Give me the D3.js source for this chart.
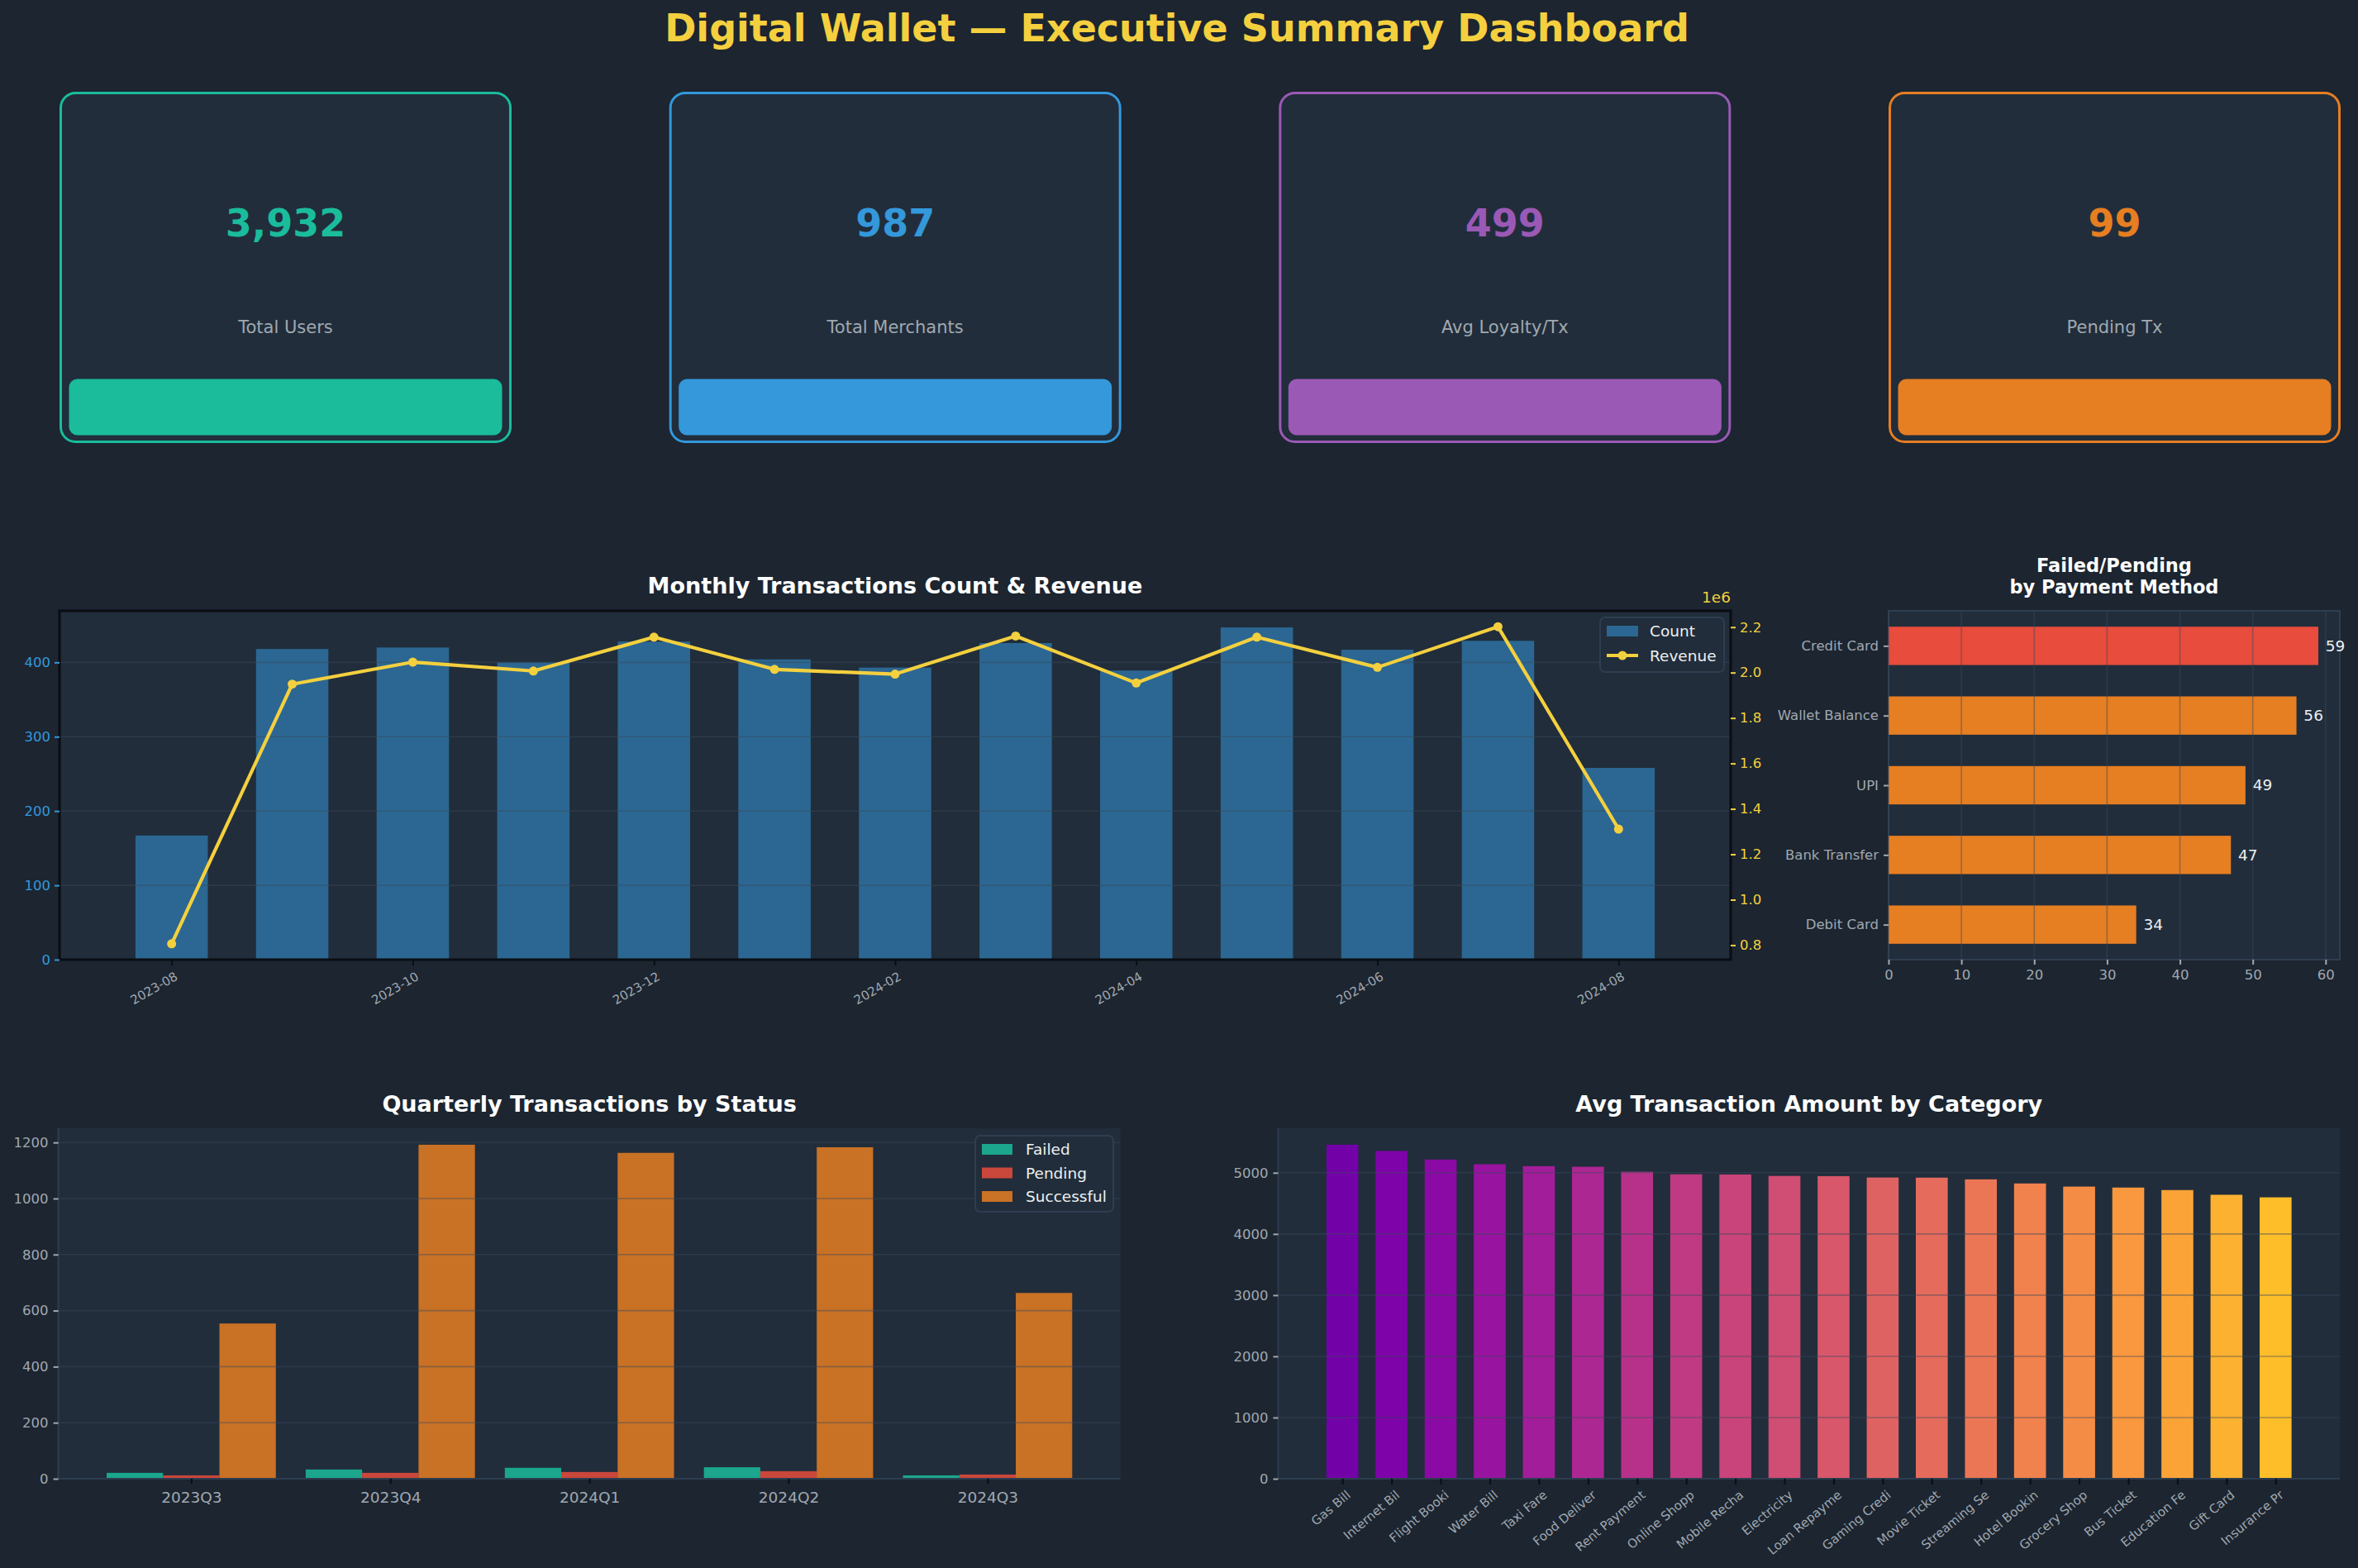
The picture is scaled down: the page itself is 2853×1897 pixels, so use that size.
<!DOCTYPE html>
<html><head><meta charset="utf-8">
<script src="https://cdn.jsdelivr.net/npm/d3@7"></script>
<style>
body{margin:0;background:#1c2530;}
svg{display:block;font-family:"DejaVu Sans",sans-serif;}
</style>
</head><body>
<svg id="c" width="2853" height="1897"></svg>
<script>
// ---------------- DATA ----------------
const kpiLabels = ["Total Users", "Total Merchants", "Avg Loyalty/Tx", "Pending Tx"];
const kpiValues = [3932, 987, 499, 99];

const months = ["2023-08","2023-09","2023-10","2023-11","2023-12","2024-01","2024-02",
                "2024-03","2024-04","2024-05","2024-06","2024-07","2024-08"];
const monthCount = [167, 418, 420, 400, 428, 404, 393, 426, 389, 447, 417, 429, 258];
const monthRevenue = [806000, 1949000, 2046000, 2007000, 2156000, 2014000, 1993000,
                      2161000, 1954000, 2156000, 2023000, 2202000, 1311000];
const monthTickLabels = ["2023-08","2023-10","2023-12","2024-02","2024-04","2024-06","2024-08"];
const countTicks = [0, 100, 200, 300, 400];
const revenueTicks = [800000, 1000000, 1200000, 1400000, 1600000, 1800000, 2000000, 2200000];

const methods = ["Credit Card", "Wallet Balance", "UPI", "Bank Transfer", "Debit Card"];
const methodIssues = [59, 56, 49, 47, 34];
const methodTicks = [0, 10, 20, 30, 40, 50, 60];

const quarters = ["2023Q3", "2023Q4", "2024Q1", "2024Q2", "2024Q3"];
const statusNames = ["Failed", "Pending", "Successful"];
const qFailed = [21, 33, 39, 41, 12];
const qPending = [12, 21, 24, 27, 15];
const qSuccessful = [554, 1192, 1163, 1183, 663];
const quarterTicks = [0, 200, 400, 600, 800, 1000, 1200];

const categories = ["Gas Bill","Internet Bil","Flight Booki","Water Bill","Taxi Fare","Food Deliver",
  "Rent Payment","Online Shopp","Mobile Recha","Electricity","Loan Repayme","Gaming Credi",
  "Movie Ticket","Streaming Se","Hotel Bookin","Grocery Shop","Bus Ticket","Education Fe",
  "Gift Card","Insurance Pr"];
const avgAmount = [5458, 5356, 5216, 5139, 5108, 5098, 5016, 4975, 4972, 4948, 4945, 4922,
  4920, 4892, 4825, 4774, 4758, 4717, 4640, 4598];
const categoryTicks = [0, 1000, 2000, 3000, 4000, 5000];

// ---------------- STYLE ----------------
const BG = "#1c2530", PANEL = "#212d3b", SPINE = "#2e3d50", GRID = "#3a4a5c";
const TXT = "#a0a8b0", WHITE = "#ffffff", YEL = "#f4d03f", BLUE = "#3498db";
const kpiColors = ["#1abc9c", "#3498db", "#9b59b6", "#e67e22"];
const statusColors = ["#1abc9c", "#e74c3c", "#e67e22"];
const fmtInt = d3.format("d");

const svg = d3.select("#c");
svg.append("rect").attr("width", 2853).attr("height", 1897).attr("fill", BG);

svg.append("text").attr("x", 1424).attr("y", 50).attr("text-anchor", "middle")
  .attr("font-size", 46).attr("font-weight", "bold").attr("fill", YEL)
  .text("Digital Wallet \u2014 Executive Summary Dashboard");

// ---------------- KPI CARDS ----------------
const cardX = d3.scaleLinear().domain([0, 3]).range([73.5, 2286.5]);
const cardW = 544, cardY = 112.5, cardH = 422;
kpiValues.forEach((v, i) => {
  const g = svg.append("g").attr("transform", `translate(${cardX(i)},${cardY})`);
  g.append("rect").attr("width", cardW).attr("height", cardH).attr("rx", 18)
    .attr("fill", PANEL).attr("stroke", kpiColors[i]).attr("stroke-width", 3);
  g.append("rect").attr("x", 10).attr("y", 346).attr("width", cardW - 20).attr("height", 68)
    .attr("rx", 10).attr("fill", kpiColors[i]);
  g.append("text").attr("x", cardW / 2).attr("y", 173).attr("text-anchor", "middle")
    .attr("font-size", 46).attr("font-weight", "bold").attr("fill", kpiColors[i])
    .text(d3.format(",")(v));
  g.append("text").attr("x", cardW / 2).attr("y", 290).attr("text-anchor", "middle")
    .attr("font-size", 21).attr("fill", TXT).text(kpiLabels[i]);
});

// helpers
function title(x, y, lines, size) {
  const t = svg.append("text").attr("x", x).attr("y", y).attr("text-anchor", "middle")
    .attr("font-size", size).attr("font-weight", "bold").attr("fill", WHITE);
  lines.forEach((l, k) => t.append("tspan").attr("x", x).attr("dy", k === 0 ? 0 : size * 1.15).text(l));
}
function styleAxis(g, textColor, tickColor, fs) {
  g.select(".domain").remove();
  g.selectAll(".tick line").attr("stroke", tickColor).attr("stroke-width", 2);
  g.selectAll(".tick text").attr("fill", textColor).attr("font-size", fs)
    .attr("font-family", "DejaVu Sans");
}

// ---------------- MONTHLY ----------------
{
  const L = 72, R = 2094, T = 739, B = 1161;
  const n = months.length;
  const x = d3.scaleLinear().domain([-0.93, n - 1 + 0.93]).range([L, R]);
  const yL = d3.scaleLinear().domain([0, d3.max(monthCount) * 1.05]).range([B, T]);
  const rMin = d3.min(monthRevenue), rMax = d3.max(monthRevenue), rr = rMax - rMin;
  const yR = d3.scaleLinear().domain([rMin - 0.05 * rr, rMax + 0.05 * rr]).range([B, T]);
  const bw = 0.6;

  svg.append("rect").attr("x", L).attr("y", T).attr("width", R - L).attr("height", B - T).attr("fill", PANEL);
  svg.append("g").selectAll("rect").data(monthCount).join("rect")
    .attr("x", (d, i) => x(i - bw / 2)).attr("width", x(bw) - x(0))
    .attr("y", d => yL(d)).attr("height", d => B - yL(d))
    .attr("fill", BLUE).attr("fill-opacity", 0.55);
  svg.append("g").selectAll("line").data(countTicks).join("line")
    .attr("x1", L).attr("x2", R).attr("y1", d => yL(d)).attr("y2", d => yL(d))
    .attr("stroke", GRID).attr("stroke-opacity", 0.45).attr("stroke-width", 1.6);

  const line = d3.line().x((d, i) => x(i)).y(d => yR(d));
  svg.append("path").datum(monthRevenue).attr("d", line).attr("fill", "none")
    .attr("stroke", YEL).attr("stroke-width", 4.2).attr("stroke-linejoin", "round");
  svg.append("g").selectAll("circle").data(monthRevenue).join("circle")
    .attr("cx", (d, i) => x(i)).attr("cy", d => yR(d)).attr("r", 5.5).attr("fill", YEL);

  svg.append("rect").attr("x", L).attr("y", T).attr("width", R - L).attr("height", B - T)
    .attr("fill", "none").attr("stroke", "#0a0d12").attr("stroke-width", 3);

  const gl = svg.append("g").attr("transform", `translate(${L},0)`)
    .call(d3.axisLeft(yL).tickValues(countTicks).tickSize(6).tickPadding(5).tickFormat(fmtInt));
  styleAxis(gl, BLUE, BLUE, 16.5);
  const gr = svg.append("g").attr("transform", `translate(${R},0)`)
    .call(d3.axisRight(yR).tickValues(revenueTicks).tickSize(6).tickPadding(5)
      .tickFormat(d => (d / 1e6).toFixed(1)));
  styleAxis(gr, YEL, YEL, 16.5);
  svg.append("text").attr("x", R).attr("y", T - 10).attr("text-anchor", "end")
    .attr("font-size", 18.5).attr("fill", YEL).text("1e6");

  const tickIdx = monthTickLabels.map(m => months.indexOf(m));
  const gb = svg.append("g").attr("transform", `translate(0,${B})`)
    .call(d3.axisBottom(x).tickValues(tickIdx).tickSize(7).tickFormat(""));
  styleAxis(gb, TXT, "#0a0d12", 15);
  svg.append("g").selectAll("text").data(tickIdx).join("text")
    .attr("transform", i => `translate(${x(i) + 3},${B + 14}) rotate(-30)`)
    .attr("text-anchor", "end").attr("dy", "0.72em")
    .attr("font-size", 15).attr("fill", TXT).text(i => months[i]);

  // legend
  const lg = svg.append("g").attr("transform", "translate(1936,747)");
  lg.append("rect").attr("width", 150).attr("height", 66).attr("rx", 6)
    .attr("fill", PANEL).attr("fill-opacity", 0.9).attr("stroke", SPINE).attr("stroke-width", 2);
  lg.append("rect").attr("x", 8).attr("y", 10).attr("width", 38).attr("height", 13)
    .attr("fill", BLUE).attr("fill-opacity", 0.55);
  lg.append("text").attr("x", 60).attr("y", 23).attr("font-size", 18.5).attr("fill", "#ecf0f1").text("Count");
  lg.append("line").attr("x1", 8).attr("x2", 46).attr("y1", 46).attr("y2", 46)
    .attr("stroke", YEL).attr("stroke-width", 4.2);
  lg.append("circle").attr("cx", 27).attr("cy", 46).attr("r", 5.5).attr("fill", YEL);
  lg.append("text").attr("x", 60).attr("y", 53).attr("font-size", 18.5).attr("fill", "#ecf0f1").text("Revenue");

  title((L + R) / 2, 718, ["Monthly Transactions Count & Revenue"], 27);
}

// ---------------- FAILED / PENDING ----------------
{
  const L = 2285, R = 2831, T = 739, B = 1161;
  const h = 0.55, n = methods.length, m = 0.05 * (n - 1 + h);
  const x = d3.scaleLinear().domain([0, d3.max(methodIssues) * 1.05]).range([L, R]);
  const y = d3.scaleLinear().domain([-h / 2 - m, n - 1 + h / 2 + m]).range([T, B]);

  svg.append("rect").attr("x", L).attr("y", T).attr("width", R - L).attr("height", B - T)
    .attr("fill", PANEL).attr("stroke", SPINE).attr("stroke-width", 2);
  svg.append("g").selectAll("rect").data(methodIssues).join("rect")
    .attr("x", L).attr("width", d => x(d) - L)
    .attr("y", (d, i) => y(i - h / 2)).attr("height", y(h) - y(0))
    .attr("fill", (d, i) => i === 0 ? "#e74c3c" : "#e67e22");
  svg.append("g").selectAll("line").data(methodTicks).join("line")
    .attr("x1", d => x(d)).attr("x2", d => x(d)).attr("y1", T).attr("y2", B)
    .attr("stroke", GRID).attr("stroke-opacity", 0.45).attr("stroke-width", 1.6);
  svg.append("g").selectAll("text").data(methodIssues).join("text")
    .attr("x", d => x(d + 1)).attr("y", (d, i) => y(i)).attr("dy", "0.35em")
    .attr("font-size", 18.5).attr("fill", "#ecf0f1").text(d => d);

  const gl = svg.append("g").attr("transform", `translate(${L},0)`)
    .call(d3.axisLeft(y).tickValues(d3.range(n)).tickSize(6).tickPadding(6).tickFormat(i => methods[i]));
  styleAxis(gl, TXT, TXT, 16.5);
  const gb = svg.append("g").attr("transform", `translate(0,${B})`)
    .call(d3.axisBottom(x).tickValues(methodTicks).tickSize(6).tickPadding(6).tickFormat(fmtInt));
  styleAxis(gb, TXT, TXT, 16.5);

  title((L + R) / 2, 692, ["Failed/Pending", "by Payment Method"], 22.5);
}

// ---------------- QUARTERLY ----------------
{
  const L = 70.6, R = 1355.7, T = 1364.7, B = 1789;
  const n = quarters.length, bw = 0.85 / 3;
  const x = d3.scaleLinear().domain([-1.5 * bw - 0.05 * (n - 1 + 3 * bw), n - 1 + 1.5 * bw + 0.05 * (n - 1 + 3 * bw)]).range([L, R]);
  const series = [qFailed, qPending, qSuccessful];
  const y = d3.scaleLinear().domain([0, d3.max(series.flat()) * 1.05]).range([B, T]);

  svg.append("rect").attr("x", L).attr("y", T).attr("width", R - L).attr("height", B - T).attr("fill", PANEL);
  series.forEach((s, k) => {
    svg.append("g").selectAll("rect").data(s).join("rect")
      .attr("x", (d, i) => x(i + (k - 1.5) * bw)).attr("width", x(bw) - x(0))
      .attr("y", d => y(d)).attr("height", d => B - y(d))
      .attr("fill", statusColors[k]).attr("fill-opacity", 0.85);
  });
  svg.append("g").selectAll("line").data(quarterTicks).join("line")
    .attr("x1", L).attr("x2", R).attr("y1", d => y(d)).attr("y2", d => y(d))
    .attr("stroke", GRID).attr("stroke-opacity", 0.45).attr("stroke-width", 1.6);
  svg.append("line").attr("x1", L).attr("x2", L).attr("y1", T).attr("y2", B).attr("stroke", SPINE).attr("stroke-width", 2);
  svg.append("line").attr("x1", L).attr("x2", R).attr("y1", B).attr("y2", B).attr("stroke", SPINE).attr("stroke-width", 2);

  const gl = svg.append("g").attr("transform", `translate(${L},0)`)
    .call(d3.axisLeft(y).tickValues(quarterTicks).tickSize(6).tickPadding(6).tickFormat(fmtInt));
  styleAxis(gl, TXT, TXT, 16.5);
  const gb = svg.append("g").attr("transform", `translate(0,${B})`)
    .call(d3.axisBottom(x).tickValues(d3.range(n)).tickSize(6).tickPadding(10).tickFormat(i => quarters[i]));
  styleAxis(gb, TXT, "#0a0d12", 18.5);

  const lg = svg.append("g").attr("transform", "translate(1180,1374)");
  lg.append("rect").attr("width", 167).attr("height", 92).attr("rx", 6)
    .attr("fill", PANEL).attr("fill-opacity", 0.9).attr("stroke", SPINE).attr("stroke-width", 2);
  statusNames.forEach((s, k) => {
    lg.append("rect").attr("x", 8).attr("y", 10 + k * 28.5).attr("width", 37).attr("height", 13)
      .attr("fill", statusColors[k]).attr("fill-opacity", 0.85);
    lg.append("text").attr("x", 61).attr("y", 23 + k * 28.5).attr("font-size", 18.5)
      .attr("fill", "#ecf0f1").text(s);
  });

  title((L + R) / 2, 1345, ["Quarterly Transactions by Status"], 27);
}

// ---------------- CATEGORY ----------------
{
  const L = 1546.5, R = 2831, T = 1364.7, B = 1789;
  const n = categories.length, bw = 0.65, m = 0.05 * (n - 1 + bw) + bw / 2;
  const x = d3.scaleLinear().domain([-m, n - 1 + m]).range([L, R]);
  const y = d3.scaleLinear().domain([0, d3.max(avgAmount) * 1.05]).range([B, T]);
  const col = d3.scaleSequential(d3.interpolatePlasma).domain([0, 1]);

  svg.append("rect").attr("x", L).attr("y", T).attr("width", R - L).attr("height", B - T).attr("fill", PANEL);
  svg.append("g").selectAll("rect").data(avgAmount).join("rect")
    .attr("x", (d, i) => x(i - bw / 2)).attr("width", x(bw) - x(0))
    .attr("y", d => y(d)).attr("height", d => B - y(d))
    .attr("fill", (d, i) => col(0.22 + 0.64 * i / (n - 1)));
  svg.append("g").selectAll("line").data(categoryTicks).join("line")
    .attr("x1", L).attr("x2", R).attr("y1", d => y(d)).attr("y2", d => y(d))
    .attr("stroke", GRID).attr("stroke-opacity", 0.45).attr("stroke-width", 1.6);
  svg.append("line").attr("x1", L).attr("x2", L).attr("y1", T).attr("y2", B).attr("stroke", SPINE).attr("stroke-width", 2);
  svg.append("line").attr("x1", L).attr("x2", R).attr("y1", B).attr("y2", B).attr("stroke", SPINE).attr("stroke-width", 2);

  const gl = svg.append("g").attr("transform", `translate(${L},0)`)
    .call(d3.axisLeft(y).tickValues(categoryTicks).tickSize(6).tickPadding(6).tickFormat(fmtInt));
  styleAxis(gl, TXT, TXT, 16.5);
  const gb = svg.append("g").attr("transform", `translate(0,${B})`)
    .call(d3.axisBottom(x).tickValues(d3.range(n)).tickSize(7).tickFormat(""));
  styleAxis(gb, TXT, "#0a0d12", 15);
  svg.append("g").selectAll("text").data(d3.range(n)).join("text")
    .attr("transform", i => `translate(${x(i) + 4},${B + 13}) rotate(-40)`)
    .attr("text-anchor", "end").attr("dy", "0.72em")
    .attr("font-size", 15).attr("fill", TXT).text(i => categories[i]);

  title((L + R) / 2, 1345, ["Avg Transaction Amount by Category"], 27);
}
</script>
</body></html>
